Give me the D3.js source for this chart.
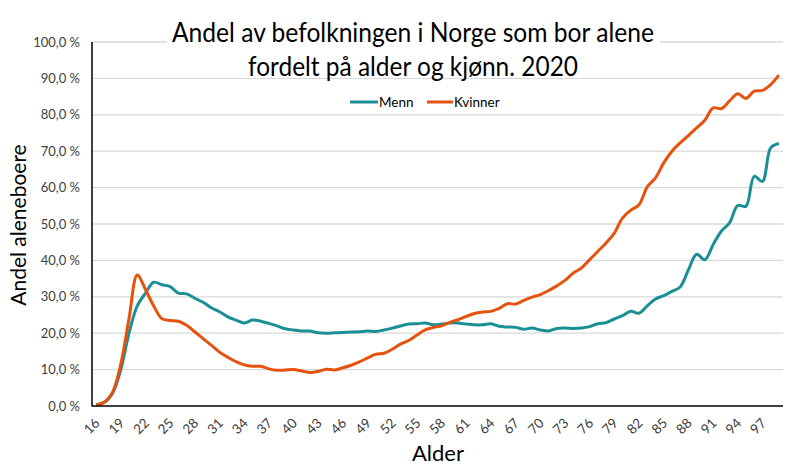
<!DOCTYPE html>
<html>
<head>
  <meta charset="utf-8">
  <style>
    body { margin: 0; background: #fff; }
    text { font-family: Lato, "Open Sans", sans-serif; fill: #000; }
    .tick text { fill: #404040; }
  </style>
</head>
<body>
  <svg id="chart" width="800" height="468"></svg>
  <script src="https://d3js.org/d3.v7.min.js"></script>
  <script>
    const ages = d3.range(16, 100)
    const menn = [0.3, 1.0, 3.5, 10.0, 20.0, 27.5, 31.0, 34.0, 33.3, 32.8,
      31.0, 30.8, 29.6, 28.5, 27.0, 25.9, 24.5, 23.6, 22.8, 23.6,
      23.3, 22.7, 22.0, 21.2, 20.9, 20.6, 20.6, 20.1, 20.0, 20.1,
      20.2, 20.3, 20.4, 20.6, 20.5, 20.9, 21.4, 22.0, 22.5, 22.6,
      22.8, 22.3, 22.5, 22.8, 22.8, 22.5, 22.3, 22.3, 22.6, 21.9,
      21.7, 21.6, 21.1, 21.4, 20.9, 20.6, 21.3, 21.4, 21.3, 21.4,
      21.8, 22.6, 22.9, 23.9, 24.8, 26.0, 25.5, 27.5, 29.4, 30.3,
      31.5, 32.7, 37.4, 41.7, 40.2, 44.3, 48.0, 50.3, 55.1, 54.9,
      63.1, 61.7, 70.9, 72.1]
    const kvinner = [0.3, 1.0, 3.8, 11.5, 24.0, 36.0, 32.0, 27.5, 24.0, 23.5,
      23.3, 22.2, 20.4, 18.5, 16.7, 14.8, 13.4, 12.2, 11.3, 10.9,
      10.9, 10.2, 9.8, 9.9, 10.0, 9.6, 9.2, 9.5, 10.1, 9.9,
      10.5, 11.2, 12.1, 13.2, 14.2, 14.5, 15.6, 17.0, 18.0, 19.5,
      20.9, 21.6, 22.0, 23.0, 23.7, 24.6, 25.4, 25.8, 26.0, 26.8,
      28.1, 28.0, 29.0, 29.9, 30.6, 31.7, 33.0, 34.5, 36.5, 37.9,
      40.2, 42.5, 44.8, 47.5, 51.7, 53.8, 55.3, 60.2, 62.7, 66.8,
      70.0, 72.3, 74.3, 76.4, 78.5, 81.9, 81.7, 83.8, 85.8, 84.5,
      86.5, 86.7, 88.3, 90.9]
    const yTicks = [0, 10, 20, 30, 40, 50, 60, 70, 80, 90, 100]
    const xTicks = ages.filter((a, i) => i % 3 === 0)
    const series = [
      { name: 'Menn', values: menn, color: '#1a8f96' },
      { name: 'Kvinner', values: kvinner, color: '#e5520e' }
    ]

    const svg = d3.select('#chart')
    const mLeft = 92, mRight = 783, mTop = 42, mBottom = 406

    const x = d3.scalePoint().domain(ages).range([mLeft, mRight]).padding(0.5)
    const y = d3.scaleLinear().domain([0, 100]).range([mBottom, mTop])

    // gridlines
    svg.append('g')
      .selectAll('line').data(yTicks.slice(1)).enter()
      .append('line')
      .attr('x1', mLeft).attr('x2', mRight)
      .attr('y1', d => y(d)).attr('y2', d => y(d))
      .attr('stroke', '#d9d9d9').attr('stroke-width', 1.3)

    // y axis labels
    const fmt = d => d.toFixed(1).replace('.', ',') + ' %'
    const yAxis = svg.append('g')
      .attr('transform', `translate(${mLeft},0)`)
      .call(d3.axisLeft(y).tickValues(yTicks).tickFormat(fmt).tickSize(0).tickPadding(12))
    yAxis.select('.domain').remove()
    yAxis.selectAll('text').attr('font-size', 13).attr('font-family', 'Lato, sans-serif')

    // x axis labels
    const xAxis = svg.append('g')
      .attr('transform', `translate(0,${mBottom})`)
      .call(d3.axisBottom(x).tickValues(xTicks).tickSize(0))
    xAxis.select('.domain').remove()
    xAxis.selectAll('text')
      .attr('font-size', 13.5).attr('font-family', 'Lato, sans-serif')
      .attr('text-anchor', 'end')
      .attr('dy', 0).attr('y', 0)
      .attr('transform', 'translate(4,18) rotate(-45)')

    // lines
    const line = d3.line()
      .x((d, i) => x(ages[i]))
      .y(d => y(d))
      .curve(d3.curveCatmullRom.alpha(0.5))

    svg.append('g').selectAll('path').data(series).enter()
      .append('path')
      .attr('d', d => line(d.values))
      .attr('fill', 'none')
      .attr('stroke', d => d.color)
      .attr('stroke-width', 3)
      .attr('stroke-linejoin', 'round')

    // axis lines
    svg.append('line').attr('x1', mLeft).attr('x2', mLeft).attr('y1', mTop).attr('y2', mBottom + 0.5)
      .attr('stroke', '#000').attr('stroke-width', 1.5)
    svg.append('line').attr('x1', mLeft).attr('x2', mRight).attr('y1', mBottom).attr('y2', mBottom)
      .attr('stroke', '#000').attr('stroke-width', 1.5)

    // title with white box
    svg.append('rect').attr('x', 167).attr('y', 8).attr('width', 493).attr('height', 70).attr('fill', '#fff')
    const title = svg.append('text').attr('text-anchor', 'middle').attr('font-size', 26)
    title.append('tspan').attr('x', 413).attr('y', 42).attr('textLength', 482).attr('lengthAdjust', 'spacingAndGlyphs')
      .text('Andel av befolkningen i Norge som bor alene')
    title.append('tspan').attr('x', 413).attr('y', 76).attr('textLength', 330).attr('lengthAdjust', 'spacingAndGlyphs')
      .text('fordelt på alder og kjønn. 2020')

    // legend
    const lg = svg.append('g')
    const legendPos = [{ x: 350, w: 28 }, { x: 427, w: 26 }]
    series.forEach((s, i) => {
      const p = legendPos[i]
      lg.append('line').attr('x1', p.x).attr('x2', p.x + p.w).attr('y1', 102).attr('y2', 102)
        .attr('stroke', s.color).attr('stroke-width', 3)
      lg.append('text').attr('x', p.x + p.w + 1).attr('y', 107).attr('font-size', 13.5)
        .attr('fill', '#404040').text(s.name)
    })

    // axis titles
    svg.append('text').attr('x', 438).attr('y', 461).attr('text-anchor', 'middle')
      .attr('font-size', 22).text('Alder')
    svg.append('text').attr('transform', 'translate(26,225) rotate(-90)').attr('text-anchor', 'middle')
      .attr('font-size', 21).text('Andel aleneboere')
  </script>
</body>
</html>
